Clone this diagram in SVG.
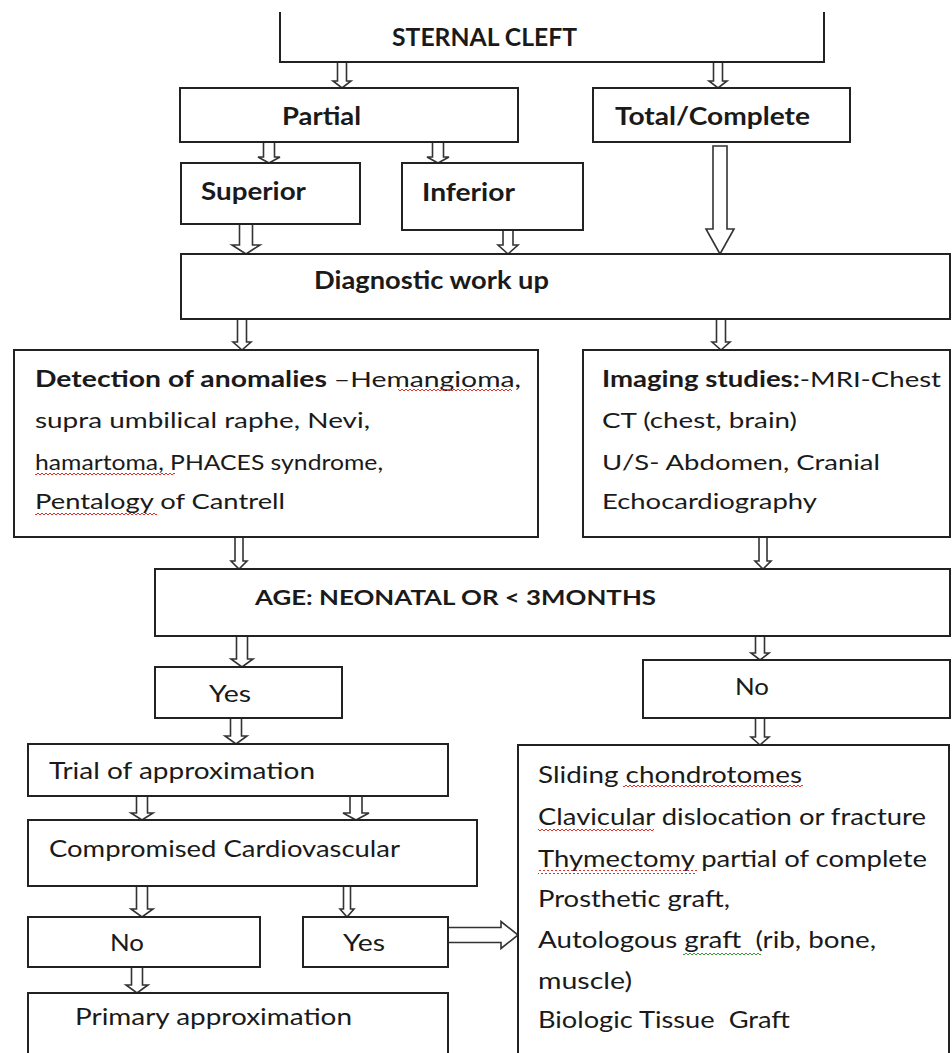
<svg xmlns="http://www.w3.org/2000/svg" width="952" height="1053" viewBox="0 0 952 1053">
<style>
.box{fill:#fff;stroke:#222;stroke-width:2}
.arr{fill:#fff;stroke:#333;stroke-width:1.6;stroke-linejoin:miter}
text{font-family:Lato,"Open Sans","Liberation Sans",sans-serif;fill:#1a1a1a}
.h{font-weight:700;font-size:24px}
.t1{font-size:22px}
.t2{font-size:23px}
.t3{font-size:24px}
.b{font-weight:700}
</style>
<defs>
<pattern id="sqR" width="4" height="4" patternUnits="userSpaceOnUse"><path d="M0,3 L2,1 L4,3" fill="none" stroke="#e0302a" stroke-width="1"/></pattern>
<pattern id="sqG" width="4" height="4" patternUnits="userSpaceOnUse"><path d="M0,3 L2,1 L4,3" fill="none" stroke="#3a9a3a" stroke-width="1"/></pattern>
</defs>
<rect width="952" height="1053" fill="#fff"/>

<g id="connectors">
<path class="arr" d="M337.5,62 V81 H333 L342,88 L351,81 H346.5 V62"/>
<path class="arr" d="M713.5,62 V81 H709 L718,88 L727,81 H722.5 V62"/>
<path class="arr" d="M263.5,142 V157 H258 L269,163 L280,157 H274.5 V142"/>
<path class="arr" d="M432.5,142 V157 H427 L438,163 L449,157 H443.5 V142"/>
<path class="arr" d="M713,146 V229 H706 L720,254 L734,229 H727 V146 Z"/>
<path class="arr" d="M239.5,224 V245 H232 L246,254 L260,245 H252.5 V224"/>
<path class="arr" d="M503,230 V245 H498 L508,254 L518,245 H513 V230"/>
<path class="arr" d="M237.5,319 V342 H233 L242,350 L251,342 H246.5 V319"/>
<path class="arr" d="M716.5,319 V342 H712 L721,350 L730,342 H725.5 V319"/>
<path class="arr" d="M235,537 V561 H231 L239,569 L247,561 H243 V537"/>
<path class="arr" d="M759,537 V561 H755 L763,569 L771,561 H767 V537"/>
<path class="arr" d="M236.5,636 V659 H231 L242,667 L253,659 H247.5 V636"/>
<path class="arr" d="M755.5,636 V653 H751 L760,660 L769,653 H764.5 V636"/>
<path class="arr" d="M230.5,718 V736 H225 L236,744 L247,736 H241.5 V718"/>
<path class="arr" d="M755.5,718 V737 H751 L760,745 L769,737 H764.5 V718"/>
<path class="arr" d="M136.5,796 V813 H131 L142,820 L153,813 H147.5 V796"/>
<path class="arr" d="M350,796 V813 H343 L356,820 L369,813 H362 V796"/>
<path class="arr" d="M136.5,886 V909 H131 L142,917 L153,909 H147.5 V886"/>
<path class="arr" d="M343.5,886 V909 H340 L347,917 L354,909 H350.5 V886"/>
<path class="arr" d="M131.5,967 V985 H126 L137,993 L148,985 H142.5 V967"/>
<path class="arr" d="M448,927.5 H501 V921.5 L518,935 L501,948.5 V942.5 H448"/>
</g>

<g id="sternal-cleft">
<path d="M280,12 V62 H824 V12" fill="none" stroke="#222" stroke-width="2"/>
<text class="h" x="392" y="46" textLength="185" lengthAdjust="spacingAndGlyphs">STERNAL CLEFT</text>
</g>
<g id="partial">
<rect class="box" x="180" y="88" width="338" height="54"/>
<text class="h" x="282" y="125" textLength="79" lengthAdjust="spacingAndGlyphs">Partial</text>
</g>
<g id="total">
<rect class="box" x="593" y="88" width="257" height="54"/>
<text class="h" x="615" y="125" textLength="195" lengthAdjust="spacingAndGlyphs">Total/Complete</text>
</g>
<g id="superior">
<rect class="box" x="181" y="163" width="179" height="61"/>
<text class="h" x="201" y="200" textLength="105" lengthAdjust="spacingAndGlyphs">Superior</text>
</g>
<g id="inferior">
<rect class="box" x="402" y="163" width="181" height="67"/>
<text class="h" x="422" y="201" textLength="93" lengthAdjust="spacingAndGlyphs">Inferior</text>
</g>
<g id="diagnostic">
<rect class="box" x="181" y="254" width="769" height="65"/>
<text class="h" x="314" y="289" textLength="235" lengthAdjust="spacingAndGlyphs">Diagnostic work up</text>
</g>
<g id="detection">
<rect class="box" x="14" y="350" width="524" height="187"/>
<text class="t1" x="35" y="387" textLength="486" lengthAdjust="spacingAndGlyphs"><tspan class="b">Detection of anomalies </tspan>–Hemangioma,</text>
<text class="t1" x="35" y="428" textLength="335" lengthAdjust="spacingAndGlyphs">supra umbilical raphe, Nevi,</text>
<text class="t1" x="35" y="470" textLength="348" lengthAdjust="spacingAndGlyphs">hamartoma, PHACES syndrome,</text>
<text class="t1" x="35" y="509" textLength="250" lengthAdjust="spacingAndGlyphs">Pentalogy of Cantrell</text>
<rect x="398" y="389" width="114" height="4" fill="url(#sqR)"/>
<rect x="35" y="472" width="140" height="4" fill="url(#sqR)"/>
<rect x="35" y="511" width="122" height="4" fill="url(#sqR)"/>
</g>
<g id="imaging">
<rect class="box" x="583" y="350" width="367" height="187"/>
<text class="t1" x="602" y="387" textLength="339" lengthAdjust="spacingAndGlyphs"><tspan class="b">Imaging studies:</tspan>-MRI-Chest</text>
<text class="t1" x="602" y="428" textLength="195" lengthAdjust="spacingAndGlyphs">CT (chest, brain)</text>
<text class="t1" x="602" y="470" textLength="278" lengthAdjust="spacingAndGlyphs">U/S- Abdomen, Cranial</text>
<text class="t1" x="602" y="509" textLength="215" lengthAdjust="spacingAndGlyphs">Echocardiography</text>
</g>
<g id="age">
<rect class="box" x="155" y="569" width="795" height="67"/>
<text class="h" x="255" y="605" style="font-size:21px" textLength="401" lengthAdjust="spacingAndGlyphs">AGE: NEONATAL OR &lt; 3MONTHS</text>
</g>
<g id="yes-age">
<rect class="box" x="155" y="667" width="187" height="51"/>
<text class="t2" x="209" y="702" textLength="42" lengthAdjust="spacingAndGlyphs">Yes</text>
</g>
<g id="no-age">
<rect class="box" x="643" y="660" width="307" height="58"/>
<text class="t2" x="735" y="695" textLength="34" lengthAdjust="spacingAndGlyphs">No</text>
</g>
<g id="trial">
<rect class="box" x="28" y="744" width="420" height="52"/>
<text class="t2" x="49" y="779" textLength="266" lengthAdjust="spacingAndGlyphs">Trial of approximation</text>
</g>
<g id="compromised">
<rect class="box" x="28" y="820" width="449" height="66"/>
<text class="t2" x="49" y="857" textLength="351" lengthAdjust="spacingAndGlyphs">Compromised Cardiovascular</text>
</g>
<g id="no-cv">
<rect class="box" x="28" y="917" width="232" height="50"/>
<text class="t2" x="110" y="951" textLength="34" lengthAdjust="spacingAndGlyphs">No</text>
</g>
<g id="yes-cv">
<rect class="box" x="303" y="917" width="145" height="50"/>
<text class="t2" x="343" y="951" textLength="42" lengthAdjust="spacingAndGlyphs">Yes</text>
</g>
<g id="primary">
<rect class="box" x="28" y="993" width="420" height="70"/>
<text class="t2" x="75" y="1025" textLength="277" lengthAdjust="spacingAndGlyphs">Primary approximation</text>
</g>
<g id="surgical-options">
<rect class="box" x="518" y="745" width="431" height="318"/>
<text class="t3" x="538" y="783" textLength="264" lengthAdjust="spacingAndGlyphs">Sliding chondrotomes</text>
<text class="t3" x="538" y="825" textLength="388" lengthAdjust="spacingAndGlyphs">Clavicular dislocation or fracture</text>
<text class="t3" x="538" y="867" textLength="389" lengthAdjust="spacingAndGlyphs">Thymectomy partial of complete</text>
<text class="t3" x="538" y="907" textLength="192" lengthAdjust="spacingAndGlyphs">Prosthetic graft,</text>
<text class="t3" x="538" y="948" xml:space="preserve" textLength="338" lengthAdjust="spacingAndGlyphs">Autologous graft  (rib, bone,</text>
<text class="t3" x="538" y="989" textLength="94" lengthAdjust="spacingAndGlyphs">muscle)</text>
<text class="t3" x="538" y="1028" xml:space="preserve" textLength="252" lengthAdjust="spacingAndGlyphs">Biologic Tissue  Graft</text>
<rect x="623" y="785" width="180" height="4" fill="url(#sqR)"/>
<rect x="538" y="828" width="116" height="4" fill="url(#sqR)"/>
<rect x="538" y="870" width="159" height="4" fill="url(#sqR)"/>
<rect x="683" y="951" width="78" height="4" fill="url(#sqG)"/>
</g>
</svg>
